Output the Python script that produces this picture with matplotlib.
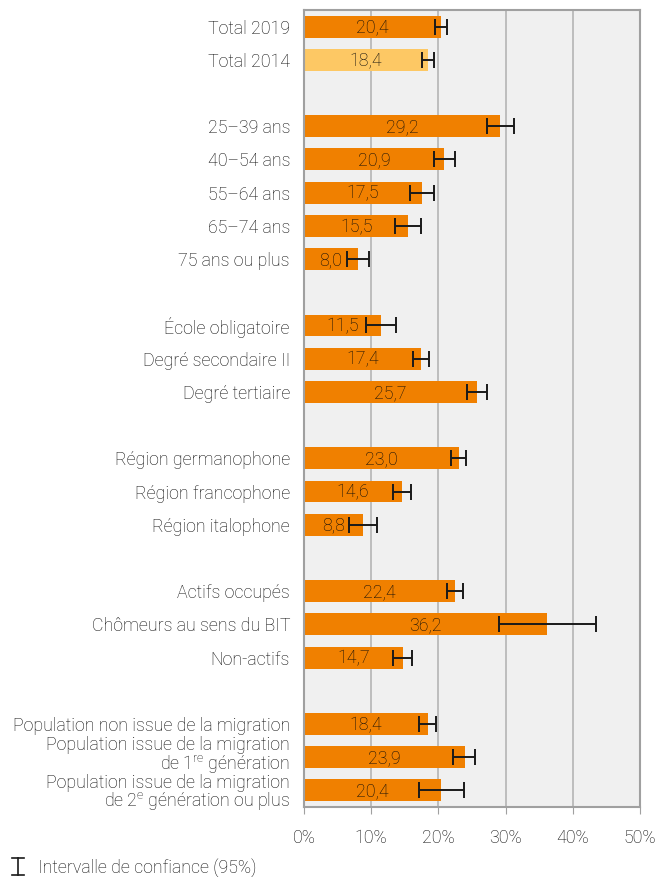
import matplotlib.pyplot as plt
from matplotlib.lines import Line2D
from matplotlib.transforms import ScaledTranslation

plt.rcParams['font.family'] = ['Roboto', 'DejaVu Sans']
plt.rcParams['font.weight'] = 'light'
plt.rcParams['mathtext.fontset'] = 'custom'
plt.rcParams['mathtext.rm'] = 'Roboto:light'

labels = [
    "Total 2019", "Total 2014",
    "25\u201339 ans", "40\u201354 ans", "55\u201364 ans", "65\u201374 ans", "75 ans ou plus",
    "\u00c9cole obligatoire", "Degr\u00e9 secondaire II", "Degr\u00e9 tertiaire",
    "R\u00e9gion germanophone", "R\u00e9gion francophone", "R\u00e9gion italophone",
    "Actifs occup\u00e9s", "Ch\u00f4meurs au sens du BIT", "Non-actifs",
    "Population non issue de la migration",
    "Population issue de la migration\nde 1$^{\\mathrm{re}}$ g\u00e9n\u00e9ration",
    "Population issue de la migration\nde 2$^{\\mathrm{e}}$ g\u00e9n\u00e9ration ou plus",
]
values = [20.4, 18.4, 29.2, 20.9, 17.5, 15.5, 8.0, 11.5, 17.4, 25.7,
          23.0, 14.6, 8.8, 22.4, 36.2, 14.7, 18.4, 23.9, 20.4]
ci_low = [19.5, 17.5, 27.3, 19.4, 15.7, 13.6, 6.4, 9.2, 16.2, 24.3,
          21.9, 13.2, 6.7, 21.3, 29.0, 13.3, 17.1, 22.2, 17.1]
ci_high = [21.3, 19.3, 31.2, 22.5, 19.3, 17.4, 9.6, 13.7, 18.6, 27.2,
           24.1, 15.9, 10.9, 23.6, 43.4, 16.1, 19.6, 25.5, 23.8]
group_sizes = [2, 5, 3, 3, 3, 3]

orange = "#f08000"
light = "#fdc864"
txt = "#0a0a0a"
fs = 12.8

# positions with a blank slot between groups
pos = []
p = 0
for g in group_sizes:
    for i in range(g):
        pos.append(p)
        p += 1
    p += 1
colors = [orange] * len(values)
colors[1] = light

fig = plt.figure(figsize=(6.56, 8.78), dpi=100)
ax = fig.add_axes([304 / 656, 1 - 808 / 878, 336 / 656, 797 / 878])
ax.set_facecolor("#f0f0f0")

ax.barh(pos, values, height=0.66, color=colors, zorder=2)
xerr = [[v - l for v, l in zip(values, ci_low)], [h - v for v, h in zip(values, ci_high)]]
ax.errorbar(values, pos, xerr=xerr, fmt="none", ecolor="#1a1a1a", elinewidth=1.4,
            capsize=6, capthick=1.4, zorder=3)
for v, y in zip(values, pos):
    ax.text(v / 2, y, f"{v:.1f}".replace(".", ","), ha="center", va="center",
            fontsize=fs, color=txt, zorder=4)

# category labels, the two-line ones nudged apart a little
for i, (lab, y) in enumerate(zip(labels, pos)):
    dy = -0.01
    if i == len(labels) - 2:
        dy = 0.025
    elif i == len(labels) - 1:
        dy = -0.015
    tr = ax.get_yaxis_transform() + ScaledTranslation(-0.14, dy, fig.dpi_scale_trans)
    ax.text(0, y, lab, transform=tr, ha="right", va="center", fontsize=fs,
            color=txt, linespacing=0.9, multialignment="right")

ax.set_xlim(0, 50)
ax.set_ylim(p - 1.5, -0.5)
ax.set_xticks(range(0, 51, 10))
ax.set_xticklabels([f"{t}%" for t in range(0, 51, 10)], fontsize=fs, color=txt)
ax.set_yticks([])
ax.tick_params(axis="x", length=5, color="#a0a0a0", pad=10)
ax.grid(axis="x", color="#b4b4b4", linewidth=1.2, zorder=1)
ax.set_axisbelow(True)
for s in ax.spines.values():
    s.set_color("#a0a0a0")
    s.set_linewidth(1.5)

# legend for the confidence interval
fig.add_artist(Line2D([18 / 656, 18 / 656], [1 - 859 / 878, 1 - 876 / 878], color="#1a1a1a", lw=1.2))
fig.add_artist(Line2D([12 / 656, 24 / 656], [1 - 859 / 878, 1 - 859 / 878], color="#1a1a1a", lw=1.2))
fig.add_artist(Line2D([12 / 656, 24 / 656], [1 - 876 / 878, 1 - 876 / 878], color="#1a1a1a", lw=1.2))
fig.text(38 / 656, 1 - 868 / 878, "Intervalle de confiance (95%)", fontsize=fs,
         color=txt, va="center", ha="left")

fig.savefig("out.png", dpi=100)
